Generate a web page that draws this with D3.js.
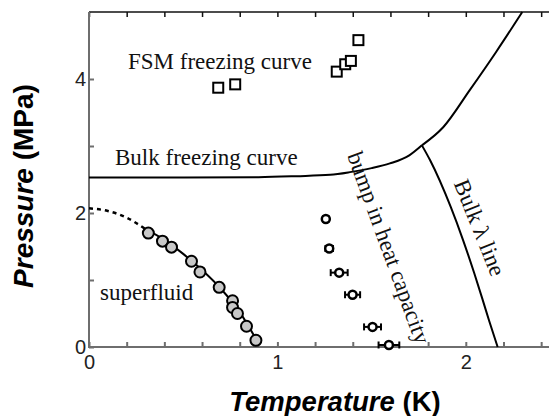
<!DOCTYPE html>
<html>
<head>
<meta charset="utf-8">
<script src="https://cdn.jsdelivr.net/npm/d3@7"></script>
<style>
  body { margin: 0; background: #fff; }
  svg { display: block; }
  .serif { font-family: "Liberation Serif", "Times New Roman", serif; font-size: 23px; fill: #111; }
  .tick text { font-family: "Liberation Sans", Arial, sans-serif; font-size: 20px; fill: #222; }
</style>
</head>
<body>
<div id="chart"></div>
<script>
// FSM freezing curve (squares)
var fsmT = [0.686, 0.776, 1.315, 1.36, 1.39, 1.43];
var fsmP = [3.87, 3.92, 4.11, 4.22, 4.27, 4.58];

// superfluid onset (grey circles)
var sfT = [0.315, 0.39, 0.438, 0.544, 0.589, 0.691, 0.762, 0.762, 0.788, 0.836, 0.886];
var sfP = [1.70, 1.58, 1.49, 1.28, 1.12, 0.89, 0.69, 0.59, 0.50, 0.31, 0.10];

// guide line through superfluid points
var sfDashT = [0, 0.1, 0.2, 0.3];
var sfDashP = [2.07, 2.03, 1.93, 1.76];
var sfLineT = [0.3, 0.4, 0.5, 0.6, 0.7, 0.8, 0.89];
var sfLineP = [1.76, 1.6, 1.39, 1.15, 0.87, 0.52, 0.1];

// heat capacity bump (open circles with error bars)
var hcT = [1.257, 1.275, 1.328, 1.399, 1.505, 1.592];
var hcP = [1.91, 1.47, 1.11, 0.78, 0.30, 0.03];
var hcErr = [0.015, 0.02, 0.045, 0.04, 0.045, 0.055];

// bulk freezing curve, below and above the lambda point
var bfLowT = [0, 0.5, 0.9, 1.1, 1.28, 1.385, 1.5, 1.597, 1.7, 1.767];
var bfLowP = [2.53, 2.53, 2.535, 2.55, 2.57, 2.61, 2.67, 2.74, 2.86, 3.01];
var bfHighT = [1.767, 1.88, 2.02, 2.16, 2.3];
var bfHighP = [3.01, 3.28, 3.83, 4.4, 5.0];

// bulk lambda line
var lamT = [1.767, 1.81, 1.92, 1.985, 2.045, 2.09, 2.123, 2.169];
var lamP = [3.01, 2.79, 2.09, 1.60, 1.10, 0.70, 0.40, 0.0];

var xTicks = [0, 0.2, 0.4, 0.6, 0.8, 1, 1.2, 1.4, 1.6, 1.8, 2, 2.2, 2.4];
var xLabels = [0, 1, 2];
var yTicks = [0, 1, 2, 3, 4];
var yLabels = [0, 2, 4];

var width = 549, height = 416;
var plot = { left: 89, right: 560, top: 12, bottom: 347 };

var svg = d3.select("#chart").append("svg")
    .attr("width", width)
    .attr("height", height);

var x = d3.scaleLinear().domain([0, 2.5]).range([plot.left, plot.right]);
var y = d3.scaleLinear().domain([0, 5]).range([plot.bottom, plot.top]);

function pts(ts, ps) {
    return ts.map(function(t, i) { return [t, ps[i]]; });
}

var line = d3.line()
    .x(function(d) { return x(d[0]); })
    .y(function(d) { return y(d[1]); })
    .curve(d3.curveMonotoneX);

// top frame
var topAxis = svg.append("g")
    .attr("transform", "translate(0," + plot.top + ")")
    .call(d3.axisTop(x).tickValues(xTicks).tickSizeInner(-5).tickSizeOuter(0).tickFormat(""));
topAxis.selectAll("path, line").attr("stroke", "#111").attr("stroke-width", 1.5);
topAxis.select(".domain").attr("d", "M" + plot.left + ",0H" + width);

// bottom axis
var xAxis = svg.append("g")
    .attr("transform", "translate(0," + plot.bottom + ")")
    .call(d3.axisBottom(x).tickValues(xTicks).tickSizeInner(-5).tickSizeOuter(0).tickPadding(8)
        .tickFormat(function(d) { return xLabels.indexOf(d) >= 0 ? d : ""; }));
xAxis.selectAll("path, line").attr("stroke", "#6e6e6e").attr("stroke-width", 2);
xAxis.select(".domain").attr("d", "M" + plot.left + ",0H" + width);

// left axis
var yAxis = svg.append("g")
    .attr("transform", "translate(" + plot.left + ",0)")
    .call(d3.axisLeft(y).tickValues(yTicks).tickSizeInner(-5).tickSizeOuter(0).tickPadding(3)
        .tickFormat(function(d) { return yLabels.indexOf(d) >= 0 ? d : ""; }));
yAxis.selectAll("path, line").attr("stroke", "#6e6e6e").attr("stroke-width", 2);
yAxis.select(".domain").attr("d", "M0," + (plot.bottom + 1) + "V" + plot.top);

// curves
svg.append("path").datum(pts(bfLowT, bfLowP))
    .attr("d", line).attr("fill", "none").attr("stroke", "#000").attr("stroke-width", 2);
svg.append("path").datum(pts(bfHighT, bfHighP))
    .attr("d", line).attr("fill", "none").attr("stroke", "#000").attr("stroke-width", 2);
svg.append("path").datum(pts(lamT, lamP))
    .attr("d", line).attr("fill", "none").attr("stroke", "#000").attr("stroke-width", 2);
svg.append("path").datum(pts(sfDashT, sfDashP))
    .attr("d", line).attr("fill", "none").attr("stroke", "#000").attr("stroke-width", 2.5)
    .attr("stroke-dasharray", "4,4");
svg.append("path").datum(pts(sfLineT, sfLineP))
    .attr("d", line).attr("fill", "none").attr("stroke", "#000").attr("stroke-width", 2);

// superfluid points
svg.selectAll(".sf").data(pts(sfT, sfP)).enter().append("circle")
    .attr("class", "sf")
    .attr("cx", function(d) { return x(d[0]); })
    .attr("cy", function(d) { return y(d[1]); })
    .attr("r", 5.5)
    .attr("fill", "#c8c8c8")
    .attr("stroke", "#000")
    .attr("stroke-width", 2);

// FSM squares
var sq = 10;
svg.selectAll(".fsm").data(pts(fsmT, fsmP)).enter().append("rect")
    .attr("class", "fsm")
    .attr("x", function(d) { return x(d[0]) - sq / 2; })
    .attr("y", function(d) { return y(d[1]) - sq / 2; })
    .attr("width", sq).attr("height", sq)
    .attr("fill", "#fff")
    .attr("stroke", "#000")
    .attr("stroke-width", 2);

// heat capacity points with error bars
var hc = svg.selectAll(".hc").data(hcT.map(function(t, i) { return [t, hcP[i], hcErr[i]]; }))
    .enter().append("g").attr("class", "hc");
hc.append("line")
    .attr("x1", function(d) { return x(d[0] - d[2]); })
    .attr("x2", function(d) { return x(d[0] + d[2]); })
    .attr("y1", function(d) { return y(d[1]); })
    .attr("y2", function(d) { return y(d[1]); })
    .attr("stroke", "#000").attr("stroke-width", 2);
[-1, 1].forEach(function(s) {
    hc.append("line")
        .attr("x1", function(d) { return x(d[0] + s * d[2]); })
        .attr("x2", function(d) { return x(d[0] + s * d[2]); })
        .attr("y1", function(d) { return y(d[1]) - 3.5; })
        .attr("y2", function(d) { return y(d[1]) + 3.5; })
        .attr("stroke", "#000").attr("stroke-width", 2);
});
hc.append("circle")
    .attr("cx", function(d) { return x(d[0]); })
    .attr("cy", function(d) { return y(d[1]); })
    .attr("r", 4)
    .attr("fill", "#fff")
    .attr("stroke", "#000")
    .attr("stroke-width", 2.5);

// labels
svg.append("text").attr("class", "serif").attr("x", 128).attr("y", 69).text("FSM freezing curve");
svg.append("text").attr("class", "serif").attr("x", 115).attr("y", 165).text("Bulk freezing curve");
svg.append("text").attr("class", "serif").attr("x", 100).attr("y", 300).text("superfluid");
svg.append("text").attr("class", "serif")
    .attr("transform", "translate(388,248) rotate(70)")
    .attr("text-anchor", "middle").attr("dy", "0.3em")
    .text("bump in heat capacity");
svg.append("text").attr("class", "serif")
    .attr("transform", "translate(479,228) rotate(68)")
    .attr("text-anchor", "middle").attr("dy", "0.3em")
    .text("Bulk \u03bb line");

// axis titles
var xt = svg.append("text")
    .attr("x", 335).attr("y", 411)
    .attr("text-anchor", "middle")
    .style("font-family", "'Liberation Sans', Arial, sans-serif")
    .style("font-size", "27.5px").style("font-weight", "bold").style("fill", "#000");
xt.append("tspan").style("font-style", "italic").text("Temperature");
xt.append("tspan").text(" (K)");

var yt = svg.append("text")
    .attr("transform", "translate(33,186) rotate(-90)")
    .attr("text-anchor", "middle")
    .style("font-family", "'Liberation Sans', Arial, sans-serif")
    .style("font-size", "28px").style("font-weight", "bold").style("fill", "#000");
yt.append("tspan").style("font-style", "italic").text("Pressure");
yt.append("tspan").text(" (MPa)");
</script>
</body>
</html>
